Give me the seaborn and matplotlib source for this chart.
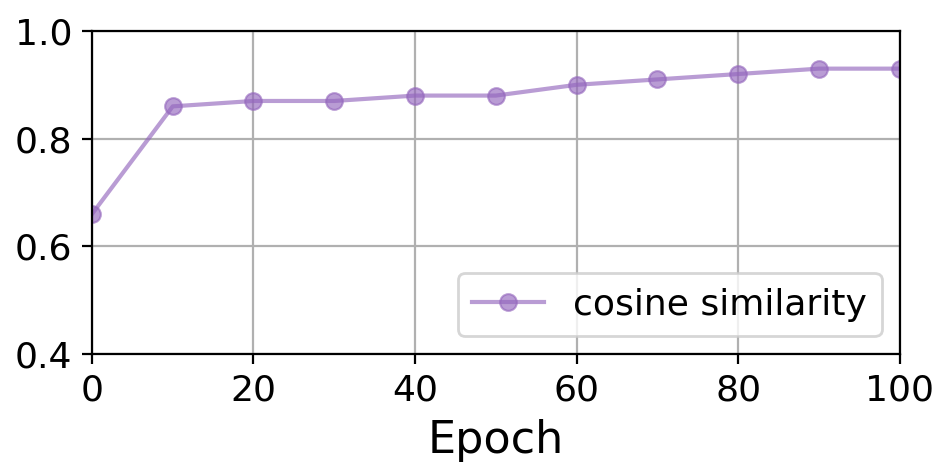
"""Cosine similarity over training epochs."""
import matplotlib
matplotlib.use("Agg")
import matplotlib.pyplot as plt
import pandas as pd
import seaborn as sns

epochs = [0, 10, 20, 30, 40, 50, 60, 70, 80, 90, 100]
cos_sim = [0.66, 0.86, 0.87, 0.87, 0.88, 0.88, 0.90, 0.91, 0.92, 0.93, 0.93]
series_label = "cosine similarity"


def main():
    df = pd.DataFrame({"Epoch": epochs, "value": cos_sim})

    fig = plt.figure(figsize=(4.76, 2.38), dpi=200)
    ax = fig.add_axes([0.0966, 0.256, 0.8484, 0.679])

    sns.lineplot(data=df, x="Epoch", y="value", marker="o", color="tab:purple",
                 alpha=0.65, linewidth=1.5, markersize=6, markeredgecolor="tab:purple",
                 label=series_label, ax=ax)

    ax.set_xlim(0, 100)
    ax.set_ylim(0.4, 1.0)
    ax.set_yticks([0.4, 0.6, 0.8, 1.0])
    ax.set_xticks([0, 20, 40, 60, 80, 100])
    ax.tick_params(labelsize=13)
    ax.set_xlabel("Epoch", fontsize=16)
    ax.set_ylabel("")
    ax.grid(True)
    ax.legend(loc="lower right", fontsize=13)

    fig.savefig("out.png", dpi=200)
    plt.close(fig)


if __name__ == "__main__":
    main()
